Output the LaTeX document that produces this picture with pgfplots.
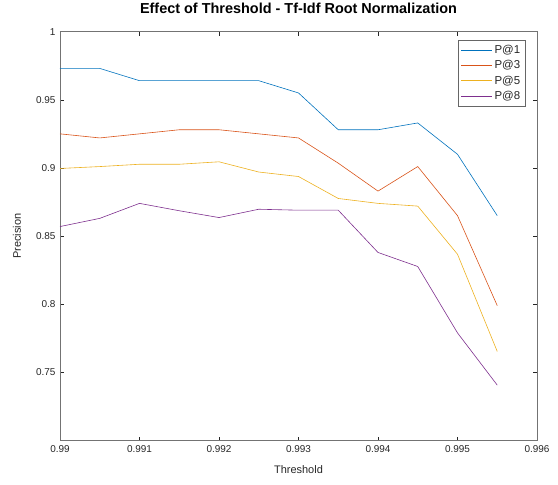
\documentclass[border=0pt]{standalone}
\usepackage{pgfplots}
\pgfplotsset{compat=1.18}
\usepackage{fontspec}
\setmainfont{Liberation Sans}
\definecolor{c1}{rgb}{0,0.447,0.741}
\definecolor{c2}{rgb}{0.85,0.325,0.098}
\definecolor{c3}{rgb}{0.929,0.694,0.125}
\definecolor{c4}{rgb}{0.494,0.184,0.556}
\definecolor{axgray}{rgb}{0.15,0.15,0.15}
\begin{document}
\begin{tikzpicture}
\begin{axis}[
  scale only axis,
  width=477bp, height=409bp,
  xmin=0.99, xmax=0.996, ymin=0.7, ymax=1,
  xtick={0.99,0.991,0.992,0.993,0.994,0.995,0.996},
  xticklabels={0.99,0.991,0.992,0.993,0.994,0.995,0.996},
  ytick={0.75,0.8,0.85,0.9,0.95,1},
  yticklabels={0.75,0.8,0.85,0.9,0.95,1},
  tick align=inside,
  major tick length=4bp,
  axis line style={draw=black!55, line width=0.8pt},
  tick style={draw=axgray, line width=0.5pt},
  ticklabel style={font=\fontsize{10}{11}\selectfont, text=axgray},
  xticklabel style={yshift=-1bp},
  yticklabel style={xshift=-1bp},
  /pgf/number format/assume math mode=true,
  title={\textbf{Effect of Threshold - Tf-Idf Root Normalization}},
  title style={font=\fontsize{14.5}{15}\selectfont, at={(axis description cs:0.5,1)}, anchor=center, yshift=17bp},
  xlabel={Threshold},
  ylabel={Precision},
  label style={font=\fontsize{11}{12}\selectfont, text=axgray},
  xlabel style={at={(axis description cs:0.5,0)}, anchor=center, yshift=-29bp},
  ylabel style={at={(axis description cs:0,0.5)}, anchor=center, yshift=43bp},
  legend style={at={(axis cs:0.995857,0.9941)}, anchor=north east, draw=black!60, line width=0.8pt,
    font=\fontsize{11.5}{12}\selectfont, row sep=1.6pt, inner sep=3pt, text=axgray},
  legend cell align=left,
  legend image post style={line width=0.6pt},
  legend image code/.code={\draw[#1] (0bp,0bp) -- (31bp,0bp);},
  every axis plot/.append style={line width=0.6pt},
]
\addplot[c1] coordinates {(0.99,0.973)(0.9905,0.973)(0.991,0.964)(0.9915,0.964)(0.992,0.964)(0.9925,0.964)(0.993,0.955)(0.9935,0.928)(0.994,0.928)(0.9945,0.933)(0.995,0.910)(0.9955,0.865)};
\addplot[c2] coordinates {(0.99,0.925)(0.9905,0.922)(0.991,0.925)(0.9915,0.928)(0.992,0.928)(0.9925,0.925)(0.993,0.922)(0.9935,0.9035)(0.994,0.883)(0.9945,0.901)(0.995,0.865)(0.9955,0.799)};
\addplot[c3] coordinates {(0.99,0.8996)(0.9905,0.901)(0.991,0.9027)(0.9915,0.9027)(0.992,0.9045)(0.9925,0.897)(0.993,0.8937)(0.9935,0.8776)(0.994,0.874)(0.9945,0.872)(0.995,0.8367)(0.9955,0.7654)};
\addplot[c4] coordinates {(0.99,0.857)(0.9905,0.863)(0.991,0.874)(0.9915,0.8686)(0.992,0.8636)(0.9925,0.8697)(0.993,0.869)(0.9935,0.869)(0.994,0.838)(0.9945,0.8277)(0.995,0.779)(0.9955,0.7407)};
\legend{P@1,P@3,P@5,P@8}
\end{axis}
\path[use as bounding box] (-60bp,-44bp) rectangle (498bp,438bp);
\end{tikzpicture}
\end{document}
